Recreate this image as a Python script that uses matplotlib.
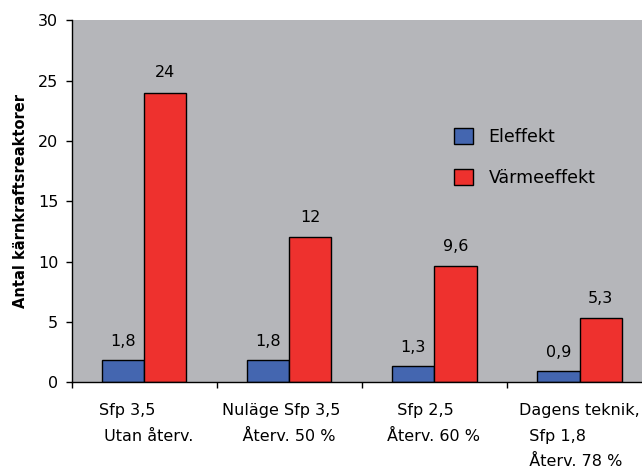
import numpy as np
import matplotlib
matplotlib.use("Agg")
import matplotlib.pyplot as plt

#%% data
categories = ["Sfp 3,5\n Utan återv.",
              "Nuläge Sfp 3,5\n    Återv. 50 %",
              "  Sfp 2,5\nÅterv. 60 %",
              "Dagens teknik,\n  Sfp 1,8\n  Återv. 78 %"]
eleffekt = [1.8, 1.8, 1.3, 0.9]
varmeeffekt = [24, 12, 9.6, 5.3]
eleffekt_labels = ["1,8", "1,8", "1,3", "0,9"]
varme_labels = ["24", "12", "9,6", "5,3"]
yticks = [0, 5, 10, 15, 20, 25, 30]

# layout: left edge of each category label relative to its centre
label_shift = [-0.31, -0.46, -0.33, -0.42]

#%% style
plt.rcParams['font.family'] = ['DejaVu Sans']
gray = '#B5B6BA'
blue = '#4466B0'
red = '#EE312E'
fs = 11.5

fig = plt.figure(figsize=(6.42, 4.73), dpi=100)
ax = fig.add_axes([71.5 / 642, 91 / 473, 1 - 71.5 / 642, 361.5 / 473])
ax.set_facecolor(gray)

x = np.arange(len(categories))
w = 0.29
b1 = ax.bar(x - w / 2, eleffekt, w, color=blue, edgecolor='black', linewidth=1, label='Eleffekt')
b2 = ax.bar(x + w / 2, varmeeffekt, w, color=red, edgecolor='black', linewidth=1, label='Värmeeffekt')

for rect, txt in zip(b1, eleffekt_labels):
    ax.annotate(txt, (rect.get_x() + rect.get_width() / 2, rect.get_height()),
                xytext=(0, 8), textcoords='offset points', ha='center', va='bottom', fontsize=fs)
for rect, txt in zip(b2, varme_labels):
    ax.annotate(txt, (rect.get_x() + rect.get_width() / 2, rect.get_height()),
                xytext=(0, 9), textcoords='offset points', ha='center', va='bottom', fontsize=fs)

ax.set_xlim(-0.5, 3.43)
ax.set_ylim(0, 30)
ax.set_yticks(yticks)
ax.set_yticklabels([str(t) for t in yticks], fontsize=fs)
ax.set_xticks(np.arange(len(categories)) - 0.5)
ax.set_xticklabels([])
ax.tick_params(axis='both', direction='out', length=4.5, width=1, color='black')
ax.tick_params(axis='y', pad=5)

for sp in ['top', 'right']:
    ax.spines[sp].set_visible(False)
for sp in ['left', 'bottom']:
    ax.spines[sp].set_linewidth(1)
    ax.spines[sp].set_color('black')

for i, lab in enumerate(categories):
    ax.annotate(lab, xy=(i + label_shift[i], 0), xycoords=('data', 'axes fraction'),
                xytext=(0, -15), textcoords='offset points', ha='left', va='top',
                multialignment='left', fontsize=fs, linespacing=1.9, annotation_clip=False)

ax.set_ylabel('Antal kärnkraftsreaktorer', fontsize=10.5, fontweight='bold', labelpad=7)

ax.legend(loc='center left', bbox_to_anchor=(454 / 642, 1 - 157.5 / 473),
          bbox_transform=fig.transFigure, frameon=False, fontsize=12.5,
          handlelength=1.09, handleheight=1.04, handletextpad=0.9,
          labelspacing=1.3, borderpad=0, borderaxespad=0)

plt.savefig('out.png', dpi=100)
